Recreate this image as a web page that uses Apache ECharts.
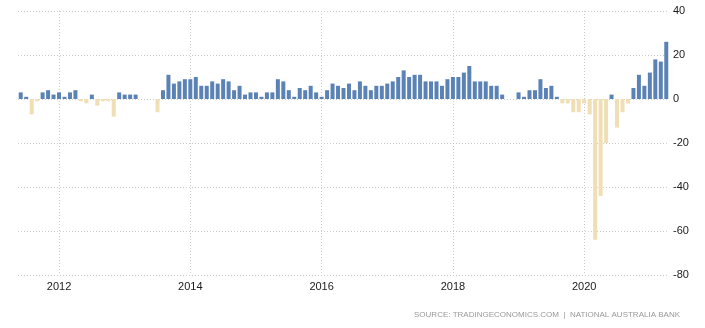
<!DOCTYPE html>
<html>
<head>
<meta charset="utf-8">
<script src="https://cdn.jsdelivr.net/npm/echarts@6/dist/echarts.min.js"></script>
<style>
html,body{margin:0;padding:0;background:#fff;}
#chart{width:705px;height:328px;}
</style>
</head>
<body>
<div id="chart"></div>
<script>
// Monthly NAB business confidence, Jun 2011 – Apr 2021
const startYear = 2011;
const startMonth = 6;
const values = [
  3, 1, -7, -1, 3, 4, 2,                       // 2011 Jun-Dec
  3, 1, 3, 4, -1, -2, 2, -3, -1, -1, -8, 3,    // 2012
  2, 2, 2, 0, 0, 0, -6, 4, 11, 7, 8, 9,        // 2013
  9, 10, 6, 6, 8, 7, 9, 8, 4, 6, 2, 3,         // 2014
  3, 1, 3, 3, 9, 8, 4, 1, 5, 4, 6, 3,          // 2015
  1, 4, 7, 6, 5, 7, 4, 8, 6, 4, 6, 6,          // 2016
  7, 8, 10, 13, 10, 11, 11, 8, 8, 8, 6, 9,     // 2017
  10, 10, 12, 15, 8, 8, 8, 6, 6, 2, 0, 0,      // 2018
  3, 1, 4, 4, 9, 5, 6, 1, -2, -2, -6, -6,      // 2019
  -2, -7, -64, -44, -20, 2, -13, -6, -2, 5, 11, 6, // 2020
  12, 18, 17, 26                               // 2021 Jan-Apr
];
const yTicks = [-80, -60, -40, -20, 0, 20, 40];
const xLabelYears = ['2012', '2014', '2016', '2018', '2020'];
const sourceText = 'SOURCE: TRADINGECONOMICS.COM  |  NATIONAL AUSTRALIA BANK';

const categories = [];
{
  let y = startYear, m = startMonth;
  for (let i = 0; i < values.length; i++) {
    categories.push(y + '-' + String(m).padStart(2, '0'));
    m++; if (m > 12) { m = 1; y++; }
  }
}
const isLabelCat = (v) => v.endsWith('-01') && xLabelYears.indexOf(v.slice(0, 4)) >= 0;

const chart = echarts.init(document.getElementById('chart'), null, {renderer: 'canvas'});
chart.setOption({
  animation: false,
  backgroundColor: '#ffffff',
  grid: {left: 18, right: 36, top: 11, bottom: 53, containLabel: false},
  xAxis: {
    type: 'category',
    data: categories,
    boundaryGap: true,
    axisLine: {show: false},
    axisTick: {show: false},
    axisLabel: {
      interval: (i, v) => isLabelCat(v),
      formatter: (v) => v.slice(0, 4),
      color: '#1a1a1a',
      fontSize: 11,
      fontFamily: 'Liberation Sans, Arial, sans-serif',
      margin: 6
    },
    splitLine: {
      show: true,
      interval: (i, v) => isLabelCat(v),
      alignWithLabel: true,
      lineStyle: {color: '#cccccc', type: [1, 2], width: 1}
    }
  },
  yAxis: {
    type: 'value',
    position: 'right',
    min: yTicks[0],
    max: yTicks[yTicks.length - 1],
    interval: 20,
    axisLine: {show: false},
    axisTick: {show: false},
    axisLabel: {
      color: '#1a1a1a',
      fontSize: 11,
      fontFamily: 'Liberation Sans, Arial, sans-serif',
      margin: 4,
      align: 'left'
    },
    splitLine: {show: true, lineStyle: {color: '#cccccc', type: [1, 2], width: 1}}
  },
  series: [{
    type: 'bar',
    data: values,
    barWidth: 4,
    itemStyle: {
      color: (p) => p.value >= 0 ? '#5a82b4' : '#f0deb4'
    }
  }],
  graphic: [{
    type: 'text',
    right: 25,
    top: 311,
    style: {
      text: sourceText,
      fill: '#999999',
      font: '8px "Liberation Sans", Arial, sans-serif'
    }
  }]
});
</script>
</body>
</html>
